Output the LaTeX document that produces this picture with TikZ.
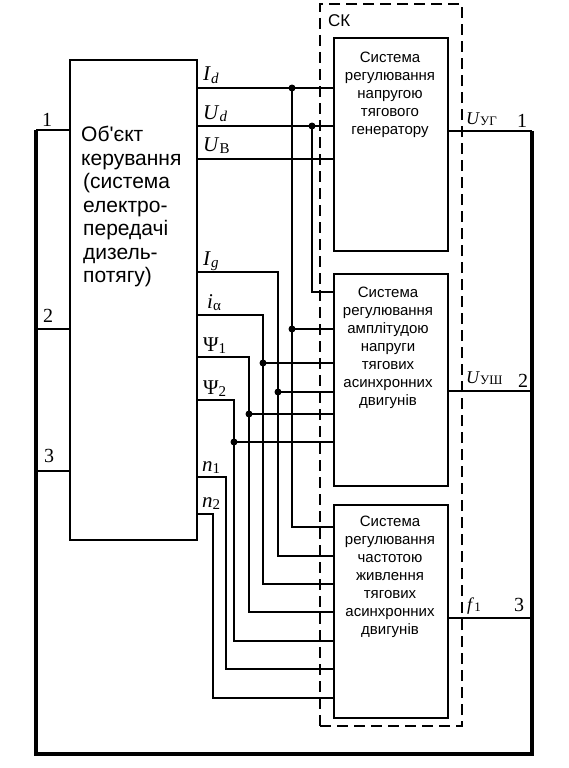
\documentclass[tikz,border=0pt]{standalone}
\usepackage{fontspec}
\setmainfont{Liberation Serif}
\newfontfamily\sansf{Liberation Sans}
\newcommand{\lsub}[1]{\raisebox{-0.13em}{\fontsize{15}{15}\selectfont #1}}
\newcommand{\rsub}[1]{\raisebox{-0.1em}{\fontsize{13}{13}\selectfont #1}}
\begin{document}
\begin{tikzpicture}[x=1pt,y=-1pt,
  wire/.style={line width=1.9pt},
  thickwire/.style={line width=3.4pt, line join=miter},
  blk/.style={draw, line width=2pt, rectangle, inner sep=0pt},
  skbox/.style={draw, line width=2.4pt, dash pattern=on 11pt off 6pt, rectangle, inner sep=0pt},
  jdot/.style={circle, fill, inner sep=0pt, minimum size=7pt},
  btxt/.style={font=\sansf\fontsize{15}{18}\selectfont, align=center, anchor=north, inner sep=0pt},
  otxt/.style={font=\sansf\fontsize{21}{23.5}\selectfont, align=left, anchor=north west, inner sep=0pt},
  lbl/.style={font=\fontsize{21}{21}\selectfont, anchor=base west, inner sep=0pt},
  rlbl/.style={font=\fontsize{18}{18}\selectfont, anchor=base west, inner sep=0pt},
  num/.style={font=\fontsize{20}{20}\selectfont, anchor=base, inner sep=0pt}]
\fill[white] (0,0) rectangle (569,768);
\useasboundingbox (0,0) rectangle (569,768);

% blocks
\node[skbox, minimum width=142pt, minimum height=722pt] (sk) at (391,365) {};
\node[blk, minimum width=127pt, minimum height=480pt] (obj) at (133.5,300) {};
\node[blk, minimum width=114pt, minimum height=213pt] (b1) at (391,144.5) {};
\node[blk, minimum width=114pt, minimum height=212pt] (b2) at (391,380) {};
\node[blk, minimum width=114pt, minimum height=213pt] (b3) at (391,611.5) {};

% texts
\node[anchor=base west, font=\sansf\fontsize{17}{17}\selectfont, inner sep=0pt] (sklbl) at (328,27) {СК};
\node[otxt] (objtxt) at (81,126) {Об\textquotesingle єкт\\керування\\\hspace*{2pt}(система\\\hspace*{2pt}електро-\\\hspace*{2pt}передачі\\\hspace*{2pt}дизель-\\\hspace*{2pt}потягу)};
\node[btxt] (t1) at (390,52) {Система\\регулювання\\напругою\\тягового\\генератору};
\node[btxt] (t2) at (388,287) {Система\\регулювання\\амплітудою\\напруги\\тягових\\асинхронних\\двигунів};
\node[btxt] (t3) at (390,516) {Система\\регулювання\\частотою\\живлення\\тягових\\асинхронних\\двигунів};

% junction points
\node[jdot] (d1) at (292,88) {};
\node[jdot] (d2) at (312,126) {};
\node[jdot] (d3) at (292,329) {};
\node[jdot] (d4) at (263,363) {};
\node[jdot] (d5) at (278,392) {};
\node[jdot] (d6) at (249,414) {};
\node[jdot] (d7) at (234,442) {};

% inputs to block 1
\draw[wire] (obj.east |- d1) -- (b1.west |- d1);
\draw[wire] (obj.east |- d2) -- (b1.west |- d2);
\draw[wire] (obj.east |- 0,159) -- (b1.west |- 0,159);

% I_d branch
\draw[wire] (d1.center) -- (292,527) -- (b3.west |- 0,527);
\draw[wire] (d3.center) -- (b2.west |- d3);
% U_d branch
\draw[wire] (d2.center) -- (312,292) -- (b2.west |- 0,292);
% I_g
\draw[wire] (obj.east |- 0,272) -- (278,272) -- (278,556) -- (b3.west |- 0,556);
\draw[wire] (d5.center) -- (b2.west |- d5);
% i_alpha
\draw[wire] (obj.east |- 0,315) -- (263,315) -- (263,584) -- (b3.west |- 0,584);
\draw[wire] (d4.center) -- (b2.west |- d4);
% Psi_1
\draw[wire] (obj.east |- 0,357) -- (249,357) -- (249,612) -- (b3.west |- 0,612);
\draw[wire] (d6.center) -- (b2.west |- d6);
% Psi_2
\draw[wire] (obj.east |- 0,400) -- (234,400) -- (234,641) -- (b3.west |- 0,641);
\draw[wire] (d7.center) -- (b2.west |- d7);
% n_1, n_2
\draw[wire] (obj.east |- 0,477) -- (226,477) -- (226,669) -- (b3.west |- 0,669);
\draw[wire] (obj.east |- 0,514) -- (213,514) -- (213,698) -- (b3.west |- 0,698);

% outputs and feedback loop
\coordinate (o1) at (532,131);
\coordinate (o2) at (532,391);
\coordinate (o3) at (532,618);
\coordinate (i1) at (36,130);
\coordinate (i2) at (36,329);
\coordinate (i3) at (36,471);
\coordinate (cbl) at (36,754);
\coordinate (cbr) at (532,754);
\draw[wire] (b1.east |- o1) -- (o1);
\draw[wire] (b2.east |- o2) -- (o2);
\draw[wire] (b3.east |- o3) -- (o3);
\draw[wire] (i1) -- (obj.west |- i1);
\draw[wire] (i2) -- (obj.west |- i2);
\draw[wire] (i3) -- (obj.west |- i3);
\draw[thickwire] (i1) -- (cbl) -- (cbr) -- (o1);

% signal labels
\node[lbl] (lId) at (203,81) {\textit{I}\lsub{\textit{d}}};
\node[lbl] (lUd) at (203,119) {\textit{U}\lsub{\textit{d}}};
\node[lbl] (lUB) at (203,151) {\textit{U}\lsub{В}};
\node[lbl] (lIg) at (203,265) {\textit{I}\lsub{\textit{g}}};
\node[lbl] (lia) at (207,308) {\textit{i}\lsub{α}};
\node[lbl] (lP1) at (203,351) {Ψ\lsub{1}};
\node[lbl] (lP2) at (203,394) {Ψ\lsub{2}};
\node[lbl] (ln1) at (202,471) {\textit{n}\lsub{1}};
\node[lbl] (ln2) at (202,507) {\textit{n}\lsub{2}};
\node[rlbl] (lUG) at (466,124) {\textit{U}\rsub{УГ}};
\node[rlbl] (lUS) at (466,383) {\textit{U}\rsub{УШ}};
\node[rlbl] (lf1) at (467,610) {\textit{f}\rsub{1}};

% loop numbers
\node[num] (n1l) at (47,126) {1};
\node[num] (n2l) at (48,322) {2};
\node[num] (n3l) at (49,462) {3};
\node[num] (n1r) at (522,127) {1};
\node[num] (n2r) at (523,387) {2};
\node[num] (n3r) at (519,611) {3};
\end{tikzpicture}
\end{document}
